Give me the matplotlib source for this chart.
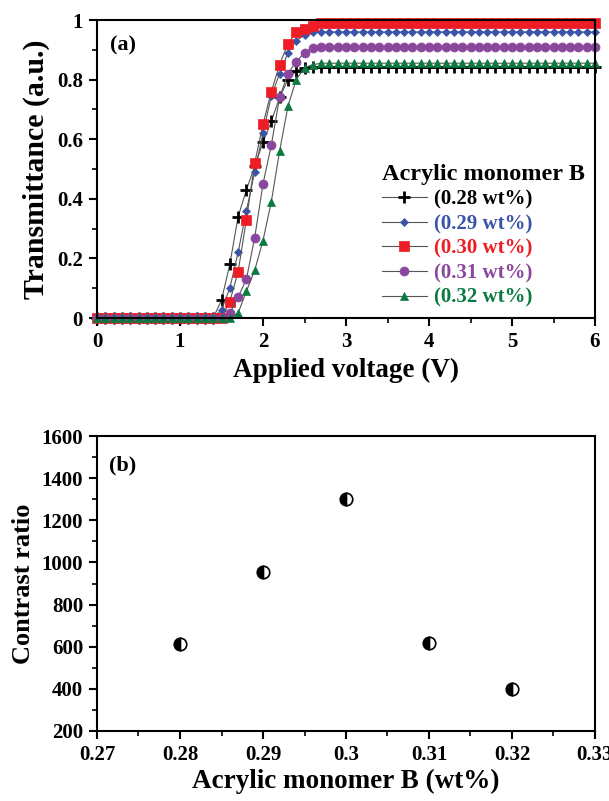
import numpy as np
import matplotlib
matplotlib.use('Agg')
from matplotlib import pyplot as plt
from matplotlib.ticker import MultipleLocator, FuncFormatter

plt.rcParams['font.family'] = ['Liberation Serif', 'DejaVu Serif']
plt.rcParams['font.weight'] = 'bold'

# (a) transmittance vs applied voltage, sampled every 0.1 V from 0 to 6 V
voltage = np.round(np.arange(0, 6.05, 0.1), 1)

t_028 = [0.0] * 15 + [0.06, 0.18, 0.34, 0.43, 0.51, 0.59, 0.66, 0.74, 0.80, 0.83, 0.84] + [0.843] * 35
t_029 = [0.0] * 15 + [0.027, 0.10, 0.22, 0.36, 0.49, 0.62, 0.745, 0.82, 0.89, 0.93, 0.95] + [0.96] * 35
t_030 = [0.0] * 16 + [0.055, 0.155, 0.33, 0.52, 0.65, 0.76, 0.85, 0.92, 0.96, 0.97, 0.98] + [0.99] * 34
t_031 = [0.0] * 16 + [0.016, 0.07, 0.13, 0.27, 0.45, 0.58, 0.74, 0.82, 0.86, 0.89, 0.905] + [0.91] * 34
t_032 = [0.0] * 17 + [0.016, 0.09, 0.16, 0.26, 0.39, 0.56, 0.71, 0.80, 0.84, 0.85] + [0.855] * 34

labels = ['(0.28 wt%)', '(0.29 wt%)', '(0.30 wt%)', '(0.31 wt%)', '(0.32 wt%)']

# (b) contrast ratio
conc = [0.28, 0.29, 0.30, 0.31, 0.32]
contrast = [615, 955, 1300, 620, 400]

series = [t_028, t_029, t_030, t_031, t_032]
colors = ['#000000', '#3a55a8', '#ee1c24', '#8b479d', '#0a7a40']
markers = ['+', 'D', 's', 'o', '^']
msizes = [8, 4.5, 6.5, 6.5, 6]


def origin_fmt(v, pos):
    s = ('%.2f' % v).rstrip('0').rstrip('.')
    return s


fig = plt.figure(figsize=(6.09, 8.01), dpi=100)

ax1 = fig.add_axes([97/609, 1-318/801, 498/609, 298/801])
for y, c, m, ms, lab in zip(series, colors, markers, msizes, labels):
    ax1.plot(voltage, y, color='#555555', lw=0.8, marker=m, ms=ms,
             mfc=c, mec=c, mew=2 if m == '+' else 0.5, label=lab, clip_on=False)
ax1.set_xlim(0, 6)
ax1.set_ylim(0, 1)
ax1.xaxis.set_major_locator(MultipleLocator(1))
ax1.xaxis.set_minor_locator(MultipleLocator(0.5))
ax1.yaxis.set_major_locator(MultipleLocator(0.2))
ax1.yaxis.set_minor_locator(MultipleLocator(0.1))
ax1.yaxis.set_major_formatter(FuncFormatter(origin_fmt))
ax1.set_xlabel('Applied voltage (V)', fontsize=19.5, fontweight='bold', labelpad=4)
ax1.set_ylabel('Transmittance (a.u.)', fontsize=21.5, fontweight='bold', labelpad=5)
ax1.text(0.027, 0.915, '(a)', transform=ax1.transAxes, fontsize=16, fontweight='bold', va='center')
leg = ax1.legend(loc='lower right', bbox_to_anchor=(1.008, -0.015), frameon=False,
                 title='Acrylic monomer B', fontsize=15, handlelength=2.2,
                 handletextpad=0.3, labelspacing=0.22, borderaxespad=0.3)
leg._legend_box.align = 'left'
leg.get_title().set_fontsize(17.5)
leg.get_title().set_fontweight('bold')
for txt, c in zip(leg.get_texts(), colors):
    txt.set_color(c)
    txt.set_fontweight('bold')

ax2 = fig.add_axes([97/609, 1-731/801, 498/609, 295/801])
ax2.plot(conc, contrast, linestyle='none', marker='o', ms=9, fillstyle='left',
         mfc='black', mfcalt='white', mec='black', mew=1.2)
ax2.set_xlim(0.27, 0.33)
ax2.set_ylim(200, 1600)
ax2.xaxis.set_major_locator(MultipleLocator(0.01))
ax2.xaxis.set_minor_locator(MultipleLocator(0.005))
ax2.yaxis.set_major_locator(MultipleLocator(200))
ax2.yaxis.set_minor_locator(MultipleLocator(100))
ax2.xaxis.set_major_formatter(FuncFormatter(origin_fmt))
ax2.set_xlabel('Acrylic monomer B (wt%)', fontsize=19.5, fontweight='bold', labelpad=3)
ax2.set_ylabel('Contrast ratio', fontsize=19, fontweight='bold', labelpad=5)
ax2.text(0.025, 0.9, '(b)', transform=ax2.transAxes, fontsize=16, fontweight='bold', va='center')

for ax in (ax1, ax2):
    for sp in ax.spines.values():
        sp.set_linewidth(1.5)
    ax.tick_params(which='major', direction='out', length=6, width=1.5, labelsize=15, pad=4)
    ax.tick_params(which='minor', direction='out', length=3.5, width=1.2)
    for t in ax.get_xticklabels() + ax.get_yticklabels():
        t.set_fontweight('bold')

fig.savefig('out.png', dpi=100)
